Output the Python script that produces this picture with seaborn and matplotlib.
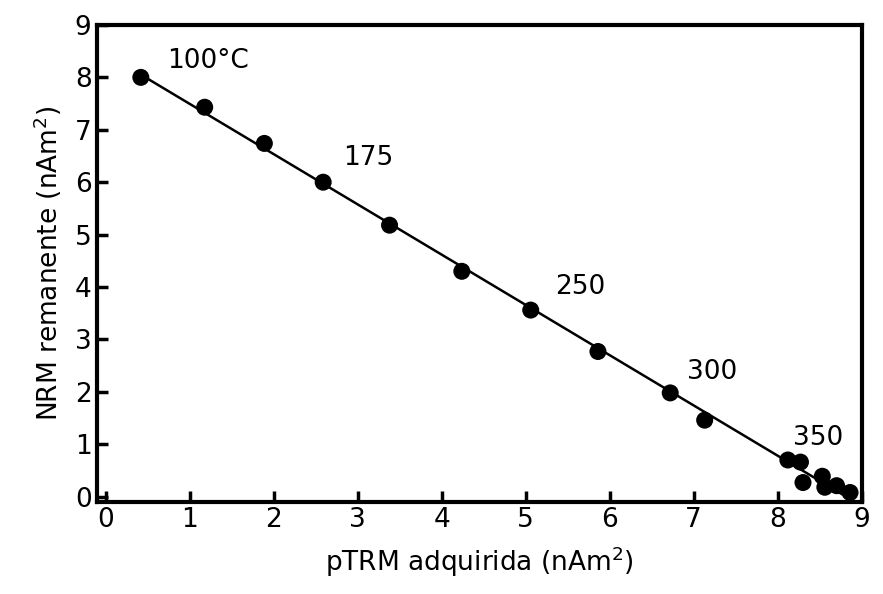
import numpy as np
import pandas as pd
import seaborn as sns
import matplotlib
matplotlib.use("Agg")
import matplotlib.pyplot as plt

# data
ptrm = [0.42, 1.18, 1.89, 2.59, 3.38, 4.24, 5.06, 5.86, 6.72, 7.13,
        8.12, 8.27, 8.30, 8.53, 8.56, 8.70, 8.86]
nrm = [8.00, 7.43, 6.74, 6.00, 5.18, 4.30, 3.56, 2.77, 1.98, 1.46,
       0.70, 0.66, 0.27, 0.39, 0.18, 0.21, 0.08]
temp_labels = ["100°C", "175", "250", "300", "350"]
temp_x = [0.73, 2.83, 5.35, 6.92, 8.18]
temp_y = [8.32, 6.46, 4.00, 2.38, 1.12]
xticks = list(range(0, 10))
yticks = list(range(0, 10))

sns.set_theme(style="white")
plt.rcParams['font.family'] = ['DejaVu Sans']

df = pd.DataFrame({"x": ptrm, "y": nrm})
fig, ax = plt.subplots(figsize=(8.83, 5.94), dpi=100)
fig.subplots_adjust(left=0.11, right=0.976, top=0.958, bottom=0.155)

slope, icpt = np.polyfit(ptrm, nrm, 1)
xs = np.array([min(ptrm), max(ptrm)])
sns.lineplot(x=xs, y=slope * xs + icpt, ax=ax, color="black", lw=1.8)
sns.scatterplot(data=df, x="x", y="y", ax=ax, color="black", s=150,
                edgecolor="none", zorder=3)

for t, tx, ty in zip(temp_labels, temp_x, temp_y):
    ax.text(tx, ty, t, fontsize=19, va="center", ha="left", color="black")

ax.set_xlim(-0.1, 8.95)
ax.set_ylim(-0.1, 9)
ax.set_xticks(xticks)
ax.set_yticks(yticks)
ax.tick_params(direction="in", length=8, width=2.5, labelsize=19,
               colors="black", labelcolor="black", left=True, bottom=True, pad=4)
for sp in ax.spines.values():
    sp.set_linewidth(3)
    sp.set_color("black")
ax.set_xlabel("pTRM adquirida (nAm$^2$)", fontsize=19, labelpad=8, color="black")
ax.set_ylabel("NRM remanente (nAm$^2$)", fontsize=19, labelpad=8, color="black")

fig.savefig("out.png", dpi=100)
